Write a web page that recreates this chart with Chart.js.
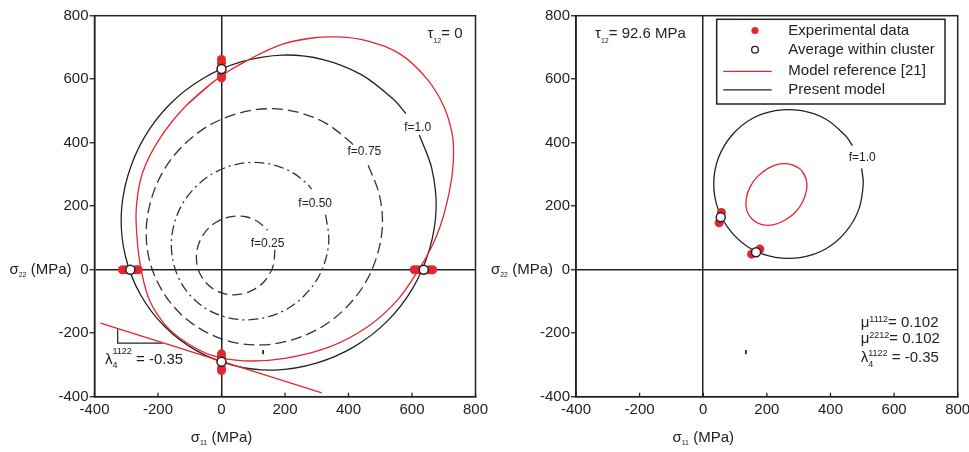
<!DOCTYPE html>
<html>
<head>
<meta charset="utf-8">
<script src="https://cdn.jsdelivr.net/npm/chart.js@4.4.1/dist/chart.umd.min.js"></script>
<style>
  body { margin: 0; background: #fff; overflow: hidden; }
  #wrap { position: relative; width: 969px; height: 452px; overflow: hidden; }
  canvas { position: absolute; top: 0; }
</style>
</head>
<body>
<div id="wrap">
  <canvas id="left" width="500" height="452" style="left:0"></canvas>
  <canvas id="right" width="495" height="452" style="left:480px"></canvas>
</div>
<script>
const FONT = "'Liberation Sans', Arial, sans-serif";
const RED = '#e5262d';
const INK = '#222';

const xTicks = [-400, -200, 0, 200, 400, 600, 800];
const yTicks = [-400, -200, 0, 200, 400, 600, 800];

// ---- tau12 = 0 (left panel) ----
const expLeft = [[0, 662], [0, 650], [0, 614], [0, 604],
  [-312, 0], [-300, 0], [-270, 0], [-262, 0],
  [607, 0], [618, 0], [655, 0], [665, 0],
  [0, -265], [0, -275], [0, -310], [0, -318]];
const avgLeft = [[0, 632], [-287, 0], [637, 0], [0, -290]];

// model reference [21], closed loop
const refLeft = [[0, 611], [100, 669], [195, 711], [280, 729], [365, 733], [458, 721], [563, 679], [647, 601],
  [700, 515], [726, 431], [731, 368], [726, 295], [710, 211], [690, 140], [661, 70], [621, 0],
  [552, -98], [458, -181], [338, -244], [200, -279], [70, -287], [-30, -270], [-110, -230], [-175, -176],
  [-226, -98], [-253, 0], [-266, 100], [-268, 200], [-248, 307], [-195, 412], [-111, 517]];

// present model, open where the contour labels sit
const f100Left = [[623, 424], [662, 320], [676, 193], [655, 64], [603, -57], [522, -162], [417, -243], [296, -295],
  [168, -316], [40, -302], [-79, -255], [-179, -179], [-255, -79], [-302, 40], [-316, 168], [-295, 296],
  [-243, 417], [-162, 522], [-57, 603], [64, 655], [193, 676], [320, 662], [439, 615], [539, 539], [581, 492]];

const f075Left = [[462, 329], [496, 240], [507, 145], [491, 48], [452, -43], [391, -121], [313, -182], [222, -221],
  [126, -237], [30, -227], [-59, -191], [-134, -134], [-191, -59], [-227, 30], [-237, 126], [-221, 222],
  [-182, 313], [-121, 391], [-43, 452], [48, 491], [145, 507], [240, 496], [329, 461], [404, 404], [417, 391]];

const f050Left = [[328, 173], [338, 97], [328, 32], [302, -29], [261, -81], [209, -122], [148, -148], [84, -158],
  [20, -151], [-40, -128], [-90, -90], [-128, -40], [-151, 20], [-158, 84], [-148, 148], [-122, 209],
  [-81, 261], [-29, 302], [32, 328], [97, 338], [160, 331], [220, 308], [270, 270], [284, 254]];

const f025Left = [[168, 63], [164, 16], [151, -14], [131, -41], [104, -61], [74, -74], [42, -79], [10, -76],
  [-20, -64], [-45, -45], [-64, -20], [-76, 10], [-79, 42], [-74, 74], [-61, 104], [-41, 131],
  [-14, 151], [16, 164], [48, 169], [80, 166], [110, 154], [135, 135], [145, 124]];

const tangentLeft = [[-381, -168], [316, -388]];
const slopeLeft = [[-327, -186], [-327, -231], [-185, -231]];
const markLeft = [[131, -253], [131, -266]];

// ---- tau12 = 92.6 MPa (right panel) ----
const expRight = [[57, 180], [50, 148], [152, 49], [178, 65]];
const avgRight = [[55, 165], [166, 55]];

const refRight = [[306, 316], [278, 331], [242, 333], [205, 320], [171, 294], [147, 260], [135, 222], [137, 186],
  [154, 159], [182, 143], [218, 141], [255, 155], [289, 180], [313, 215], [325, 252], [323, 288]];

const f100Right = [[498, 319], [503, 270], [489, 190], [448, 119], [386, 66], [309, 39], [227, 39], [150, 66],
  [88, 119], [47, 190], [33, 270], [47, 350], [88, 421], [150, 474], [227, 501], [309, 501],
  [386, 474], [448, 421], [469, 391]];
const markRight = [[134, -253], [134, -266]];

const legendItems = ['Experimental data', 'Average within cluster', 'Model reference [21]', 'Present model'];

const xy = a => a.map(p => ({ x: p[0], y: p[1] }));
const loop = a => xy([a[a.length - 1], ...a, a[0], a[1]]);

function curve(data, color, width, dash, tension, order) {
  return {
    data: data, showLine: true, borderColor: color, borderWidth: width,
    borderDash: dash || [], tension: tension, pointRadius: 0, fill: false, order: order
  };
}
function dots(data, fillColor, border, order) {
  return {
    data: xy(data), showLine: false, pointRadius: 4.5, pointHoverRadius: 4.5,
    pointBackgroundColor: fillColor, pointBorderColor: border ? INK : fillColor,
    pointBorderWidth: border ? 1.5 : 0, order: order
  };
}

function scales(yWidth) {
  const zeroLine = c => (c.tick && c.tick.value === 0) ? INK : 'rgba(0,0,0,0)';
  return {
    x: {
      type: 'linear', min: -400, max: 800,
      afterBuildTicks: s => { s.ticks = xTicks.map(v => ({ value: v })); },
      grid: { color: zeroLine, lineWidth: 1.5, drawTicks: false },
      border: { display: true, color: INK, width: 1.5 },
      ticks: { color: INK, font: { size: 15 }, padding: 4, maxRotation: 0, autoSkip: false },
      afterFit: s => { s.height = 55.3; }
    },
    y: {
      type: 'linear', min: -400, max: 800,
      afterBuildTicks: s => { s.ticks = yTicks.map(v => ({ value: v })); },
      grid: { color: zeroLine, lineWidth: 1.5, drawTicks: true, tickLength: 5, tickColor: INK, tickWidth: 1.3 },
      border: { display: true, color: INK, width: 1.5 },
      ticks: { color: INK, font: { size: 15 }, padding: 1, autoSkip: false },
      afterFit: s => { s.width = yWidth; }
    }
  };
}

// draw a row of text pieces: [text, size, dy, noAdvance]
function textRun(ctx, parts, x, y, align) {
  let w = 0;
  parts.forEach(p => {
    ctx.font = p[1] + 'px ' + FONT;
    if (!p[3]) w += ctx.measureText(p[0]).width;
  });
  let cx = align === 'right' ? x - w : align === 'center' ? x - w / 2 : x;
  ctx.textAlign = 'left';
  ctx.textBaseline = 'middle';
  parts.forEach(p => {
    ctx.font = p[1] + 'px ' + FONT;
    ctx.fillText(p[0], cx, y + (p[2] || 0));
    if (!p[3]) cx += ctx.measureText(p[0]).width;
  });
}

function frame(chart) {
  const ctx = chart.ctx, a = chart.chartArea, x = chart.scales.x;
  ctx.save();
  ctx.strokeStyle = INK;
  ctx.lineWidth = 1.5;
  ctx.strokeRect(a.left, a.top, a.right - a.left, a.bottom - a.top);
  ctx.lineWidth = 1.3;
  xTicks.forEach(v => {
    const px = x.getPixelForValue(v);
    ctx.beginPath();
    ctx.moveTo(px, a.bottom);
    ctx.lineTo(px, a.bottom - 4);
    ctx.stroke();
  });
  ctx.restore();
}

function axisTitles(chart) {
  const ctx = chart.ctx, a = chart.chartArea;
  const x = chart.scales.x, y = chart.scales.y;
  ctx.fillStyle = INK;
  textRun(ctx, [['σ', 15, 0], ['22', 7, 5], [' (MPa)', 15, 0]], a.left - 23, y.getPixelForValue(0), 'right');
  textRun(ctx, [['σ', 15, 0], ['11', 7, 5], [' (MPa)', 15, 0]], x.getPixelForValue(0), 438.3, 'center');
}

const leftPlugin = {
  id: 'leftDecor',
  beforeDatasetsDraw: frame,
  afterDraw(chart) {
    const ctx = chart.ctx, a = chart.chartArea;
    const x = chart.scales.x, y = chart.scales.y;
    ctx.save();
    axisTitles(chart);
    ctx.fillStyle = INK;
    textRun(ctx, [['τ', 15, 0], ['12', 7, 8], ['= 0', 15, 0]], a.right - 13, 33.5, 'right');
    textRun(ctx, [['λ', 15, 0], ['4', 9, 6, true], ['1122', 9, -8], [' = -0.35', 15, 0]],
      x.getPixelForValue(-367), y.getPixelForValue(-284), 'left');
    [['f=1.0', 618, 448], ['f=0.75', 450, 371], ['f=0.50', 295, 207], ['f=0.25', 145, 81]].forEach(l => {
      textRun(ctx, [[l[0], 12, 0]], x.getPixelForValue(l[1]), y.getPixelForValue(l[2]), 'center');
    });
    ctx.restore();
  }
};

const rightPlugin = {
  id: 'rightDecor',
  beforeDatasetsDraw: frame,
  afterDraw(chart) {
    const ctx = chart.ctx, a = chart.chartArea;
    const x = chart.scales.x, y = chart.scales.y;
    ctx.save();
    axisTitles(chart);
    ctx.fillStyle = INK;
    textRun(ctx, [['τ', 15, 0], ['12', 7, 8], ['= 92.6 MPa', 15, 0]], a.left + 19, 33.5, 'left');
    textRun(ctx, [['f=1.0', 12, 0]], x.getPixelForValue(500), y.getPixelForValue(354), 'center');
    const mx = a.left + 284.7;
    textRun(ctx, [['μ', 15, 0], ['1112', 9, -3], ['= 0.102', 15, 0]], mx, 322.5, 'left');
    textRun(ctx, [['μ', 15, 0], ['2212', 9, -3], ['= 0.102', 15, 0]], mx, 338.7, 'left');
    textRun(ctx, [['λ', 15, 0], ['4', 9, 6, true], ['1122', 9, -4.5], [' = -0.35', 15, 0]], mx, 358.3, 'left');

    // legend
    const lx = a.left + 140.7, ly = a.top + 3.6;
    ctx.strokeStyle = INK;
    ctx.lineWidth = 1.5;
    ctx.strokeRect(lx, ly, 228.3, 84.7);
    const rows = [11.2, 30.5, 52, 70.5];
    legendItems.forEach((t, i) => {
      const ry = ly + rows[i];
      textRun(ctx, [[t, 15, 0]], lx + 71.6, ry, 'left');
      const sx = lx + 38.3;
      ctx.beginPath();
      if (i === 0) {
        ctx.fillStyle = RED;
        ctx.arc(sx, ry, 3.6, 0, Math.PI * 2);
        ctx.fill();
      } else if (i === 1) {
        ctx.fillStyle = '#fff';
        ctx.strokeStyle = INK;
        ctx.lineWidth = 1.3;
        ctx.arc(sx, ry, 3.4, 0, Math.PI * 2);
        ctx.fill();
        ctx.stroke();
      } else {
        ctx.strokeStyle = i === 2 ? RED : INK;
        ctx.lineWidth = 1.3;
        ctx.moveTo(lx + 6.6, ry);
        ctx.lineTo(lx + 55, ry);
        ctx.stroke();
      }
      ctx.fillStyle = INK;
    });
    ctx.restore();
  }
};

Chart.defaults.font.family = FONT;
Chart.defaults.color = INK;

const common = {
  responsive: false,
  animation: false,
  events: [],
  plugins: { legend: { display: false }, tooltip: { enabled: false } }
};

new Chart(document.getElementById('left'), {
  type: 'scatter',
  data: {
    datasets: [
      dots(avgLeft, '#fff', true, 0),
      dots(expLeft, RED, false, 1),
      curve(loop(refLeft), RED, 1.3, null, 0.38, 3),
      curve(xy(f100Left), INK, 1.3, null, 0.34, 4),
      curve(xy(f075Left), '#333', 1.3, [11, 5], 0.34, 5),
      curve(xy(f050Left), '#333', 1.3, [10, 4, 2, 4], 0.34, 5),
      curve(xy(f025Left), '#333', 1.3, [10, 5], 0.36, 5),
      curve(xy(tangentLeft), RED, 1.3, null, 0, 3),
      curve(xy(slopeLeft), INK, 1.2, null, 0, 4),
      curve(xy(markLeft), INK, 1, null, 0, 6)
    ]
  },
  options: Object.assign({}, common, {
    layout: { padding: { left: 0, right: 24.5, top: 15.7, bottom: 0 } },
    scales: scales(94.5)
  }),
  plugins: [leftPlugin]
});

new Chart(document.getElementById('right'), {
  type: 'scatter',
  data: {
    datasets: [
      dots(avgRight, '#fff', true, 0),
      dots(expRight, RED, false, 1),
      curve(loop(refRight), RED, 1.3, null, 0.38, 3),
      curve(xy(f100Right), INK, 1.3, null, 0.36, 4),
      curve(xy(markRight), INK, 1, null, 0, 6)
    ]
  },
  options: Object.assign({}, common, {
    layout: { padding: { left: 0, right: 17.3, top: 15.7, bottom: 0 } },
    scales: scales(96)
  }),
  plugins: [rightPlugin]
});
</script>
</body>
</html>
